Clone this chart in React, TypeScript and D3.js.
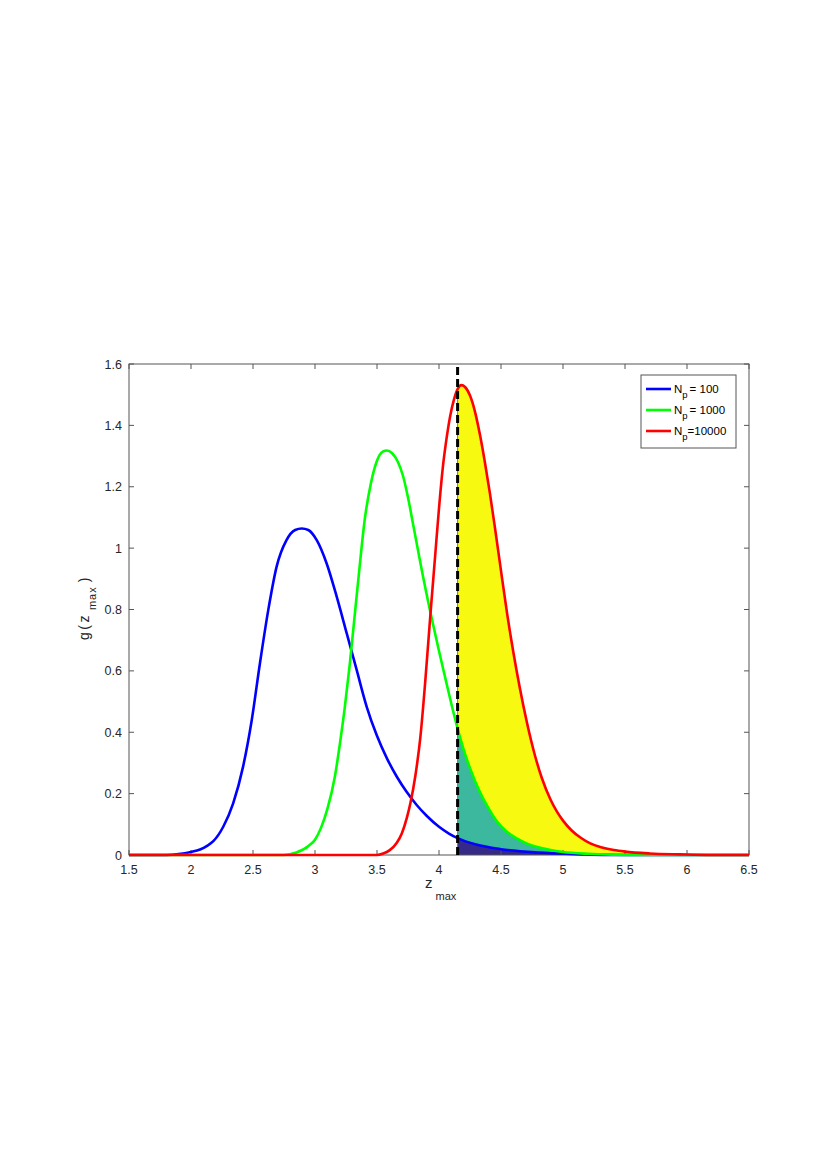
import React from 'react';
import * as d3 from 'd3';

// Series: N_p = 100 (blue), 1000 (green), 10000 (red)
const blueX = [1.5, 1.8, 1.9, 2.0, 2.073, 2.13, 2.18, 2.26, 2.34, 2.42, 2.49, 2.556, 2.623, 2.69, 2.77, 2.84, 2.893, 2.946, 3.014, 3.094, 3.175, 3.256, 3.336, 3.417, 3.498, 3.58, 3.66, 3.74, 3.82, 3.9, 4.0, 4.08, 4.15, 4.3, 4.5, 4.8, 5.1, 5.5, 6.5];
const blueY = [0, 0, 0.003, 0.01, 0.018, 0.03, 0.045, 0.092, 0.168, 0.288, 0.44, 0.625, 0.798, 0.939, 1.026, 1.059, 1.064, 1.059, 1.026, 0.95, 0.842, 0.722, 0.603, 0.483, 0.39, 0.315, 0.255, 0.205, 0.163, 0.128, 0.092, 0.07, 0.055, 0.034, 0.019, 0.008, 0.003, 0, 0];

const greenX = [1.5, 2.75, 2.85, 2.95, 3.0, 3.05, 3.1, 3.16, 3.2, 3.24, 3.28, 3.32, 3.36, 3.4, 3.45, 3.5, 3.55, 3.58, 3.62, 3.67, 3.71, 3.75, 3.79, 3.83, 3.87, 3.91, 3.95, 4.0, 4.05, 4.1, 4.15, 4.2, 4.25, 4.33, 4.4, 4.47, 4.55, 4.63, 4.71, 4.8, 4.9, 5.0, 5.2, 5.4, 5.6, 6.5];
const greenY = [0, 0, 0.008, 0.03, 0.05, 0.09, 0.15, 0.255, 0.36, 0.48, 0.62, 0.78, 0.94, 1.09, 1.21, 1.285, 1.315, 1.318, 1.31, 1.28, 1.235, 1.165, 1.08, 0.995, 0.91, 0.83, 0.755, 0.665, 0.578, 0.492, 0.412, 0.342, 0.283, 0.205, 0.152, 0.108, 0.075, 0.053, 0.037, 0.025, 0.016, 0.01, 0.004, 0.001, 0, 0];

const redX = [1.5, 3.5, 3.55, 3.6, 3.66, 3.7, 3.74, 3.77, 3.81, 3.85, 3.89, 3.93, 3.97, 4.0, 4.03, 4.06, 4.09, 4.12, 4.15, 4.18, 4.21, 4.25, 4.29, 4.33, 4.37, 4.41, 4.45, 4.49, 4.55, 4.6, 4.65, 4.71, 4.77, 4.83, 4.9, 4.95, 5.0, 5.07, 5.14, 5.22, 5.3, 5.41, 5.5, 5.7, 5.94, 6.2, 6.5];
const redY = [0, 0, 0.005, 0.015, 0.04, 0.07, 0.12, 0.17, 0.26, 0.385, 0.57, 0.78, 0.98, 1.13, 1.26, 1.355, 1.43, 1.483, 1.518, 1.531, 1.525, 1.497, 1.445, 1.37, 1.28, 1.18, 1.07, 0.955, 0.785, 0.66, 0.548, 0.43, 0.33, 0.25, 0.18, 0.142, 0.112, 0.08, 0.057, 0.038, 0.026, 0.016, 0.011, 0.005, 0.002, 0, 0];

const threshold = 4.15;
const xTicks = [1.5, 2, 2.5, 3, 3.5, 4, 4.5, 5, 5.5, 6, 6.5];
const yTicks = [0, 0.2, 0.4, 0.6, 0.8, 1, 1.2, 1.4, 1.6];
const legendNums = ['= 100', '= 1000', '=10000'];
const lineColors = ['#0000ff', '#00ff00', '#ff0000'];
const fillColors = ['#352a87', '#3bb89d', '#f7fa10'];

type P = [number, number];
const zip = (a: number[], b: number[]): P[] => a.map((v, i) => [v, b[i]] as P);

export default function App() {
  const W = 827, H = 1170;
  const left = 129, right = 749, top = 364, bottom = 855;
  const x = d3.scaleLinear().domain([1.5, 6.5]).range([left, right]);
  const y = d3.scaleLinear().domain([0, 1.6]).range([bottom, top]);
  const line = d3.line<P>().x(d => x(d[0])).y(d => y(d[1])).curve(d3.curveMonotoneX);
  const area = d3.area<P>().x(d => x(d[0])).y0(y(0)).y1(d => y(d[1])).curve(d3.curveMonotoneX);

  const series = [zip(blueX, blueY), zip(greenX, greenY), zip(redX, redY)];
  const tails = series.map(s => s.filter(d => d[0] >= threshold));
  const redAtT = tails[2][0][1];
  const font = '"Liberation Sans", Arial, Helvetica, sans-serif';
  const tc = '#262626';
  const axc = '#555';
  const tl = 5;

  const legX = 641, legY = 375, legW = 95, legH = 73, rowH = 21;

  return (
    <svg width={W} height={H} style={{ position: 'absolute', left: 0, top: 0, background: '#fff' }} fontFamily={font}>
      {/* fills: red tail (yellow), green tail (teal), blue tail (navy) */}
      <path d={area(tails[2]) || ''} fill={fillColors[2]} />
      <path d={area(tails[1]) || ''} fill={fillColors[1]} />
      <path d={area(tails[0]) || ''} fill={fillColors[0]} />
      <line x1={x(threshold)} x2={x(threshold)} y1={y(0)} y2={y(redAtT)} stroke="#777" strokeWidth={1} />

      {/* axes box */}
      <rect x={left} y={top} width={right - left} height={bottom - top} fill="none" stroke={axc} strokeWidth={1} />
      {xTicks.map(t => (
        <g key={'x' + t}>
          <line x1={x(t)} x2={x(t)} y1={bottom} y2={bottom - tl} stroke={axc} />
          <line x1={x(t)} x2={x(t)} y1={top} y2={top + tl} stroke={axc} />
          <text x={x(t)} y={bottom + 18.5} textAnchor="middle" fontSize={12.5} fill={tc}>{t}</text>
        </g>
      ))}
      {yTicks.map(t => (
        <g key={'y' + t}>
          <line x1={left} x2={left + tl} y1={y(t)} y2={y(t)} stroke={axc} />
          <line x1={right} x2={right - tl} y1={y(t)} y2={y(t)} stroke={axc} />
          <text x={left - 7} y={y(t) + 4.5} textAnchor="end" fontSize={12.5} fill={tc}>{t}</text>
        </g>
      ))}

      {/* curves */}
      {series.map((s, i) => (
        <path key={'l' + i} d={line(s) || ''} fill="none" stroke={lineColors[i]} strokeWidth={2.6} strokeLinejoin="round" />
      ))}

      {/* threshold dashed line */}
      <line x1={x(threshold)} x2={x(threshold)} y1={y(0)} y2={y(1.6)} stroke="#000" strokeWidth={3} strokeDasharray="8,4" />

      {/* axis labels */}
      <text x={425} y={888} fontSize={15} fill={tc}>z<tspan dx={3} dy={12} fontSize={11}>max</tspan></text>
      <text transform="translate(88.5,640) rotate(-90)" fontSize={14} fill={tc}>
        <tspan letterSpacing={2.5}>g(z</tspan>
        <tspan dx={3} dy={7} fontSize={11} letterSpacing={1}>max</tspan>
        <tspan dy={-7} dx={4}>)</tspan>
      </text>

      {/* legend */}
      <rect x={legX} y={legY} width={legW} height={legH} fill="#fff" stroke={axc} strokeWidth={1} />
      {legendNums.map((lab, i) => {
        const ry = legY + 14 + i * rowH;
        return (
          <g key={'lg' + i}>
            <line x1={legX + 5} x2={legX + 30} y1={ry} y2={ry} stroke={lineColors[i]} strokeWidth={2.6} />
            <text x={legX + 33} y={ry + 4} fontSize={11.5} fill="#000">N<tspan dy={5} fontSize={9.5}>p</tspan><tspan dy={-5} dx={lab.startsWith('= ') ? 2 : 0}>{lab}</tspan></text>
          </g>
        );
      })}
    </svg>
  );
}
